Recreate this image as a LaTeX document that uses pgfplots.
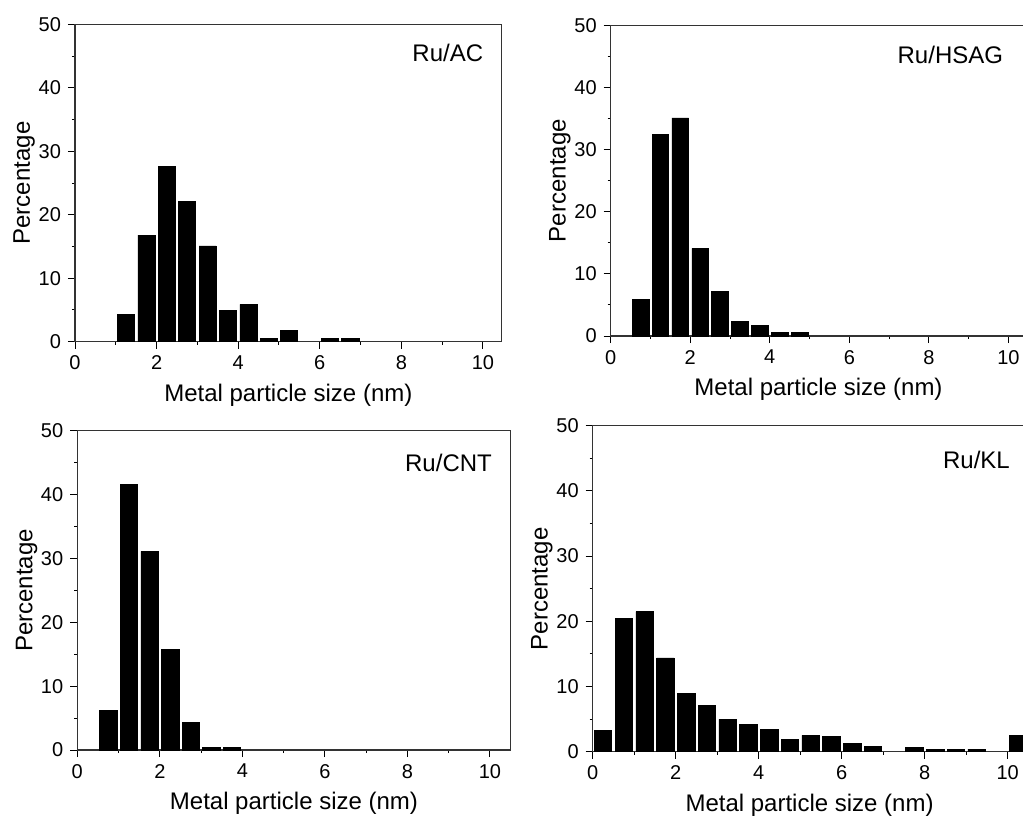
\documentclass[border=0pt]{standalone}
\usepackage{fontspec}
\setmainfont{Liberation Sans}
\usepackage{pgfplots}
\pgfplotsset{compat=1.18}
\pgfplotsset{
  hist/.style={
    scale only axis,
    anchor=south west,
    xmin=0, ymin=0, ymax=50,
    xtick={0,2,...,10}, minor xtick={1,3,...,9},
    ytick={0,10,...,50}, minor ytick={5,15,...,45},
    xtick pos=left, ytick pos=left,
    tick align=outside,
    major tick length=3.5pt, minor tick length=1.6pt,
    every tick/.style={black, line width=0.5pt},
    axis line style={line width=0.6pt, black!80},
    tick label style={font=\fontsize{10}{12}\selectfont},
    /pgf/number format/assume math mode=true,
    label style={font=\fontsize{12}{14}\selectfont},
    xlabel={Metal particle size (nm)},
    ylabel={Percentage},
    ylabel style={yshift=-5pt},
    clip=true,
  },
  bars/.style={ybar, bar width=0.42, fill=black, draw=black, line width=0.3pt},
}
\begin{document}
\begin{tikzpicture}
\useasboundingbox (0,0) rectangle (511.5pt,408pt);
% Ru/AC
\begin{axis}[hist, at={(37.5pt,237.15pt)}, width=213.35pt, height=158.7pt, xmax=10.46]
\addplot[bars] coordinates {(1.25,4.36) (1.75,16.8) (2.25,27.6) (2.75,22.1) (3.25,15.1) (3.75,4.94) (4.25,5.88) (4.75,0.58) (5.25,1.73) (6.25,0.58) (6.75,0.58)};
\node[anchor=east, font=\fontsize{12}{14}\selectfont] at (rel axis cs:0.973,0.91) {Ru/AC};
\end{axis}
% Ru/HSAG
\begin{axis}[hist, at={(305.35pt,240pt)}, width=207.8pt, height=155.35pt, xmax=10.45]
\addplot[bars] coordinates {(0.75,5.9) (1.25,32.4) (1.75,35.1) (2.25,14.1) (2.75,7.24) (3.25,2.36) (3.75,1.77) (4.25,0.64) (4.75,0.64)};
\node[anchor=east, font=\fontsize{12}{14}\selectfont] at (rel axis cs:0.961,0.904) {Ru/HSAG};
\end{axis}
% Ru/CNT
\begin{axis}[hist, at={(38.65pt,33pt)}, width=216.65pt, height=159.65pt, xmax=10.5]
\addplot[bars] coordinates {(0.75,6.26) (1.25,41.6) (1.75,31.1) (2.25,15.8) (2.75,4.33) (3.25,0.47) (3.75,0.47)};
\node[anchor=east, font=\fontsize{12}{14}\selectfont] at (rel axis cs:0.973,0.899) {Ru/CNT};
\end{axis}
% Ru/KL
\begin{axis}[hist, at={(296.35pt,32.15pt)}, width=216.85pt, height=163pt, xmax=10.45]
\addplot[bars] coordinates {(0.25,3.27) (0.75,20.4) (1.25,21.5) (1.75,14.4) (2.25,8.95) (2.75,7.06) (3.25,4.96) (3.75,4.19) (4.25,3.43) (4.75,1.94) (5.25,2.5) (5.75,2.3) (6.25,1.23) (6.75,0.82) (7.75,0.61) (8.25,0.41) (8.75,0.41) (9.25,0.41) (10.25,2.5)};
\node[anchor=east, font=\fontsize{12}{14}\selectfont] at (rel axis cs:0.978,0.895) {Ru/KL};
\end{axis}
\end{tikzpicture}
\end{document}
